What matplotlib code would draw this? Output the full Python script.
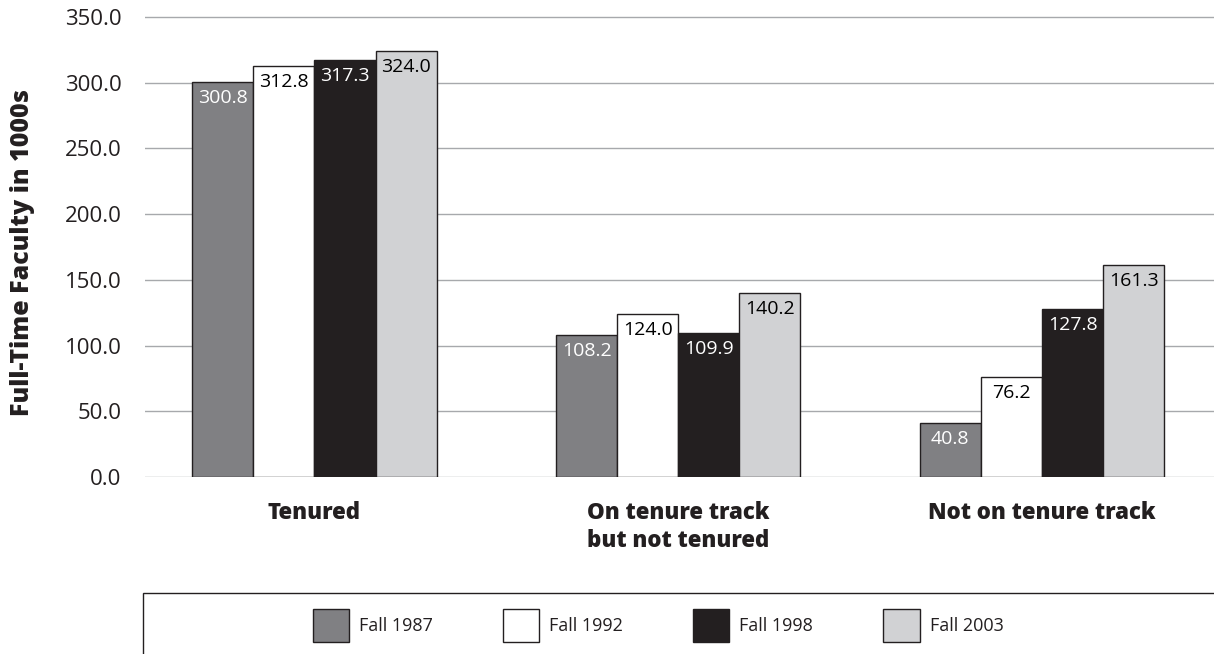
import matplotlib.pyplot as plt
from matplotlib.patches import Rectangle, Patch
import numpy as np

categories = ['Tenured', 'On tenure track\nbut not tenured', 'Not on tenure track']
years = ['Fall 1987', 'Fall 1992', 'Fall 1998', 'Fall 2003']
fall_1987 = [300.8, 108.2, 40.8]
fall_1992 = [312.8, 124.0, 76.2]
fall_1998 = [317.3, 109.9, 127.8]
fall_2003 = [324.0, 140.2, 161.3]
series = [fall_1987, fall_1992, fall_1998, fall_2003]

colors = ['#808083', '#ffffff', '#231f20', '#d1d2d4']
text_colors = ['white', 'black', 'white', 'black']
edge = '#231f20'

plt.rcParams['font.family'] = ['Open Sans', 'DejaVu Sans']

fig = plt.figure(figsize=(12.14, 6.54), dpi=100)
# 0 sits at y=477 px, 350 at y=17 px
ax = fig.add_axes([145 / 1214, 177 / 654, 1 - 145 / 1214, 466.5 / 654])

x = np.arange(len(categories))
width = 0.168
for i, (vals, c, tc) in enumerate(zip(series, colors, text_colors)):
    pos = x + (i - 1.5) * width
    bars = ax.bar(pos, vals, width, color=c, edgecolor=edge, linewidth=1, zorder=3)
    for b, v in zip(bars, vals):
        ax.annotate(f'{v:.1f}', (b.get_x() + b.get_width() / 2, v),
                    xytext=(0, -5), textcoords='offset points',
                    ha='center', va='top', color=tc, fontsize=14, zorder=4)

ax.set_xlim(-0.466, 2.473)
ax.set_ylim(0, 355)
ax.set_yticks(np.arange(0, 351, 50))
ax.set_yticklabels([f'{t:.1f}' for t in np.arange(0, 351, 50)])
ax.yaxis.grid(True, color='#a7a9ac', linewidth=1, zorder=0)
ax.set_xticks(x)
ax.set_xticklabels(categories, fontweight=800, fontsize=16, linespacing=1.25,
                   color='#231f20')
ax.tick_params(axis='y', length=0, pad=17, labelsize=16, labelcolor='#231f20')
ax.tick_params(axis='x', length=0, pad=17)
for s in ax.spines.values():
    s.set_visible(False)

fig.text(23 / 1214, 1 - 253 / 654, 'Full-Time Faculty in 1000s', rotation=90,
         ha='center', va='center', fontsize=18, fontweight=800, color='#231f20')

# legend box, runs off the bottom and right edges
fig.patches.append(Rectangle((143 / 1214, -0.05), 1.1, 1 - 593 / 654 + 0.05,
                             transform=fig.transFigure, fill=False,
                             edgecolor='#231f20', linewidth=1))
handles = [Patch(facecolor=c, edgecolor=edge, linewidth=1) for c in colors]
fig.legend(handles, years, loc='center', bbox_to_anchor=(658 / 1214, 1 - 625.5 / 654),
           ncol=4, frameon=False, fontsize=13, handlelength=2.0, handleheight=2.45,
           handletextpad=0.55, columnspacing=3.9, labelcolor='#231f20')

fig.savefig('out.png', dpi=100)
